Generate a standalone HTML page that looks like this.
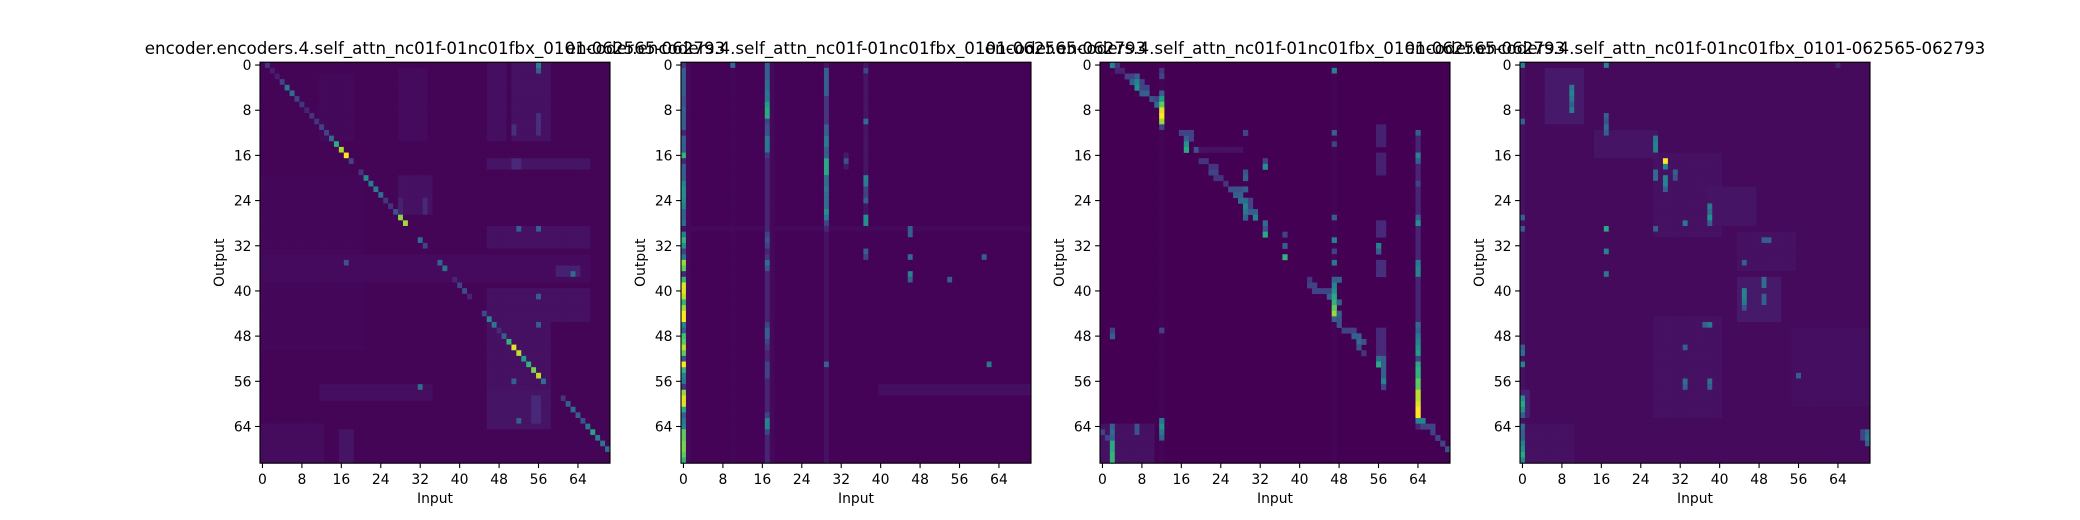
<!DOCTYPE html>
<html><head><meta charset="utf-8"><style>
html,body{margin:0;padding:0;background:#fff;}
svg{display:block;font-family:"DejaVu Sans","Liberation Sans",sans-serif;}
</style></head><body>
<svg id="fig" width="2080" height="520" viewBox="0 0 2080 520" xmlns="http://www.w3.org/2000/svg"></svg>
<script>
// ---- chart data (matrix 71x71 per head) ----
const nCells = 71;
const tickValues = [0, 8, 16, 24, 32, 40, 48, 56, 64];
const panelTitles = [
  "encoder.encoders.4.self_attn_nc01f-01nc01fbx_0101-062565-062793",
  "encoder.encoders.4.self_attn_nc01f-01nc01fbx_0101-062565-062793",
  "encoder.encoders.4.self_attn_nc01f-01nc01fbx_0101-062565-062793",
  "encoder.encoders.4.self_attn_nc01f-01nc01fbx_0101-062565-062793"
];
const baseValues = [0.01, 0.005, 0.0, 0.025];
// rects: [rowStart,rowEnd,colStart,colEnd,value]
const rects1 = [[0,13,46,49,0.08],[0,13,51,58,0.1],[9,12,56,56,0.3],[11,12,51,51,0.3],[1,13,28,33,0.06],[2,13,12,18,0.05],
 [17,18,46,66,0.12],[17,18,51,52,0.25],[29,32,46,66,0.1],[34,38,0,66,0.06],[36,37,60,64,0.2],[40,45,46,66,0.1],
 [20,26,28,34,0.1],[24,26,33,33,0.25],[24,26,28,28,0.2],[46,57,46,58,0.1],[58,64,46,58,0.12],[59,63,55,56,0.25],
 [57,59,12,34,0.08],[64,70,0,12,0.07],[65,70,16,18,0.12],[20,50,0,20,0.04]];
const cells1 = [[0,1,0.15],[1,2,0.08],[2,3,0.08],[3,4,0.2],[4,5,0.4],[5,6,0.35],[6,7,0.2],[7,8,0.15],[8,9,0.1],[9,10,0.15],
 [10,11,0.15],[11,12,0.2],[12,13,0.2],[13,14,0.35],[14,15,0.62],[15,16,0.88],[16,17,1.0],[17,18,0.2],[19,20,0.15],[20,21,0.48],
 [21,22,0.42],[22,23,0.42],[23,24,0.36],[24,25,0.16],[25,26,0.15],[26,27,0.25],[27,28,0.82],[28,29,0.86],[31,32,0.36],[32,33,0.2],
 [35,36,0.32],[36,37,0.38],[38,39,0.1],[39,40,0.2],[40,41,0.24],[41,42,0.1],[44,45,0.22],[45,46,0.46],[46,47,0.4],[47,48,0.12],
 [48,49,0.3],[49,50,0.65],[50,51,0.95],[51,52,0.9],[52,53,0.55],[53,54,0.65],[54,55,0.8],[55,56,0.9],[56,57,0.36],[59,61,0.15],
 [60,62,0.3],[61,63,0.35],[62,64,0.3],[63,65,0.25],[64,66,0.4],[65,67,0.58],[66,68,0.42],[67,69,0.38],[68,70,0.36],
 [0,56,0.45],[1,56,0.3],[29,52,0.3],[29,56,0.3],[35,17,0.25],[37,63,0.35],[41,56,0.3],[46,56,0.3],[56,51,0.3],[63,52,0.3],[57,32,0.35]];
const rects2 = [[0,70,18,18,0.05],[0,70,10,10,0.03],[29,70,29,29,0.1],[16,18,33,33,0.15],[29,29,0,70,0.05],[57,58,40,70,0.08],[0,28,37,37,0.12],[0,70,1,1,0.05]];
const col0Values2 = [0.15,0.3,0.3,0.3,0.3,0.3,0.25,0.25,0.3,0.3,0.3,0.3,0.1,0.3,0.3,0.3,0.65,0.1,0.3,0.3,0.3,0.45,0.5,0.5,0.48,0.45,0.3,0.3,0.35,0.05,
 0.45,0.65,0.5,0.2,0.4,0.85,0.75,0.1,0.65,0.95,0.95,0.9,0.65,0.85,1.0,1.0,0.45,0.3,0.7,0.75,0.9,0.75,0.25,1.0,0.65,0.45,0.4,0.15,0.85,0.95,
 0.95,0.6,0.3,0.4,0.45,0.75,0.75,0.8,0.8,0.75,0.65];
const col17Values2 = [0.1,0.3,0.3,0.35,0.35,0.4,0.4,0.55,0.6,0.6,0.2,0.25,0.25,0.4,0.4,0.4,0.15,0.1,0.1,0.1,0.1,0.1,0.1,0.1,0.1,0.1,0.1,0.1,0.1,0.1,
 0.2,0.25,0.2,0.1,0.15,0.35,0.25,0.1,0.1,0.1,0.1,0.1,0.1,0.1,0.1,0.1,0.2,0.3,0.3,0.2,0.15,0.1,0.1,0.2,0.2,0.2,0.1,0.1,0.1,0.1,
 0.1,0.1,0.2,0.45,0.45,0.2,0.1,0.1,0.1,0.1,0.1];
const col29Values2 = [0.05,0.3,0.3,0.3,0.3,0.3,0.15,0.15,0.15,0.15,0.15,0.3,0.3,0.4,0.4,0.3,0.3,0.6,0.6,0.6,0.35,0.35,0.4,0.35,0.35,0.35,0.5,0.4,0.2,0.1];
const cells2 = [[0,10,0.35],[0,17,0.3],[1,37,0.2],[10,37,0.35],[20,37,0.45],[21,37,0.42],[22,37,0.2],[23,37,0.2],[24,37,0.3],[27,37,0.5],[28,37,0.5],
 [33,37,0.3],[34,37,0.2],[29,46,0.3],[30,46,0.3],[34,46,0.35],[37,46,0.45],[38,46,0.3],[38,54,0.3],[34,61,0.3],[53,62,0.4],[53,29,0.3],[17,33,0.25]];
const rects3 = [[64,70,0,10,0.1],[11,14,56,57,0.2],[16,19,56,57,0.2],[28,30,56,57,0.25],[35,37,56,57,0.3],[47,52,56,57,0.25],[15,15,20,28,0.1],
 [0,70,47,47,0.02],[0,70,12,12,0.02]];
const col64Values3 = [0,0,0,0,0,0,0,0,0,0,0,0,0.3,0.1,0.1,0.1,0.45,0.3,0.1,0.1,0.1,0.2,0.1,0.1,0.1,0.1,0.1,0.3,0.5,0.1,
 0.1,0.1,0.1,0.1,0.1,0.4,0.45,0.45,0.1,0.1,0.1,0.1,0.1,0.1,0.1,0.1,0.35,0.3,0.4,0.45,0.5,0.55,0.2,0.6,0.65,0.65,0.75,0.75,0.9,0.9,
 0.95,1.0,1.0,0.45,0.1,0,0,0,0,0,0];
const cells3 = [[0,2,0.45],[0,3,0.15],[1,3,0.1],[1,4,0.1],[1,12,0.15],[1,47,0.45],[2,5,0.2],[2,6,0.2],[2,7,0.3],[2,12,0.2],[3,6,0.3],[3,7,0.45],[3,8,0.2],
 [4,7,0.5],[4,8,0.2],[4,9,0.2],[5,8,0.3],[5,9,0.3],[5,12,0.3],[6,10,0.25],[6,11,0.2],[6,12,0.55],[7,11,0.35],[7,12,0.75],[8,12,0.95],[9,12,1.0],
 [10,12,0.85],[11,12,0.2],[12,16,0.2],[12,17,0.2],[12,18,0.2],[12,29,0.2],[12,47,0.3],[13,17,0.3],[13,18,0.2],[14,17,0.5],[14,47,0.2],[15,17,0.6],
 [15,19,0.25],[17,20,0.15],[17,21,0.15],[17,33,0.2],[18,33,0.5],[18,22,0.15],[18,23,0.15],[19,22,0.2],[19,23,0.2],[19,29,0.25],[20,23,0.15],
 [20,24,0.15],[20,29,0.3],[21,25,0.15],[22,26,0.25],[22,27,0.25],[22,28,0.25],[22,29,0.3],[23,27,0.3],[23,28,0.3],[24,28,0.35],[24,29,0.35],
 [24,30,0.2],[25,29,0.45],[25,30,0.2],[26,29,0.4],[26,30,0.3],[26,31,0.3],[27,29,0.3],[27,31,0.45],[27,47,0.3],[28,33,0.35],[29,33,0.25],
 [30,33,0.6],[30,37,0.2],[31,47,0.45],[32,37,0.3],[32,56,0.45],[33,56,0.3],[33,47,0.2],[34,37,0.65],[35,47,0.4],[38,42,0.15],[38,47,0.3],
 [38,48,0.3],[39,42,0.2],[39,43,0.2],[39,47,0.45],[40,43,0.2],[40,44,0.2],[40,45,0.2],[40,46,0.2],[40,47,0.5],[41,46,0.3],[41,47,0.6],
 [42,47,0.65],[42,48,0.3],[43,47,0.75],[44,47,0.85],[44,48,0.3],[45,47,0.3],[45,48,0.25],[46,48,0.25],[47,2,0.2],[47,12,0.2],[47,49,0.2],
 [47,50,0.2],[47,51,0.2],[48,2,0.3],[48,51,0.3],[48,52,0.3],[49,52,0.35],[49,53,0.25],[50,52,0.25],[51,53,0.15],[52,56,0.35],[52,57,0.3],
 [53,56,0.6],[53,57,0.3],[54,57,0.3],[55,57,0.3],[56,57,0.45],[57,57,0.2],[63,65,0.45],[64,65,0.2],[64,66,0.2],[64,67,0.2],[65,67,0.2],
 [66,68,0.2],[67,69,0.2],[68,70,0.25],[63,12,0.4],[64,12,0.5],[65,12,0.4],[66,12,0.3],[64,2,0.3],[65,2,0.35],[66,2,0.3],[67,2,0.6],
 [68,2,0.6],[69,2,0.65],[70,2,0.65],[65,0,0.2],[66,1,0.2],[64,7,0.25],[65,7,0.25]];
const rects4 = [[1,10,5,12,0.15],[12,16,15,27,0.12],[16,30,27,40,0.1],[22,28,38,47,0.12],[30,36,44,55,0.1],[38,45,44,52,0.15],
 [45,62,27,40,0.1],[47,60,55,70,0.08],[64,70,0,10,0.1],[58,62,0,1,0.2],[0,70,0,0,0.1]];
const cells4 = [[0,0,0.45],[0,17,0.45],[4,10,0.4],[5,10,0.45],[6,10,0.4],[7,10,0.3],[8,10,0.4],[9,17,0.3],[10,17,0.25],[11,17,0.35],
 [12,17,0.3],[13,27,0.4],[14,27,0.45],[15,27,0.45],[17,29,1.0],[18,29,0.45],[20,29,0.45],[21,29,0.45],[22,29,0.3],[19,27,0.35],[20,27,0.35],
 [19,31,0.3],[20,31,0.25],[25,38,0.4],[26,38,0.35],[27,38,0.5],[28,38,0.3],[28,33,0.4],[29,17,0.6],[33,17,0.45],[37,17,0.4],[29,0,0.3],
 [31,49,0.3],[31,50,0.3],[35,45,0.3],[38,49,0.35],[39,49,0.35],[40,45,0.45],[41,45,0.45],[42,45,0.4],[41,49,0.3],[42,49,0.3],[43,45,0.25],
 [46,38,0.4],[46,37,0.3],[50,33,0.3],[56,38,0.35],[56,33,0.35],[57,33,0.3],[57,38,0.3],[55,56,0.3],[53,0,0.45],[50,0,0.3],[51,0,0.35],
 [59,0,0.5],[60,0,0.6],[61,0,0.5],[62,0,0.3],[64,0,0.35],[65,0,0.3],[66,0,0.3],[67,0,0.45],[68,0,0.5],[69,0,0.6],[70,0,0.45],
 [65,70,0.35],[66,70,0.4],[67,70,0.3],[66,69,0.2],[65,69,0.2],[27,0,0.3],[10,0,0.3],[0,64,0.1],[29,27,0.3]];

// ---- layout ----
const panelLefts = [260, 681, 1100, 1520];
const panelTop = 62.2, panelW = 350, panelH = 401;
const cw = panelW / nCells, ch = panelH / nCells;
const rectDim = 0.45;

const viridisStops = [[68,1,84],[72,40,120],[62,74,137],[49,104,142],[38,130,142],[31,158,137],[53,183,121],[109,205,89],[180,222,44],[253,231,37]];
function viridis(v){
  v = Math.max(0, Math.min(1, v));
  const p = v * (viridisStops.length - 1), i = Math.floor(p), f = p - i;
  const a = viridisStops[i], b = viridisStops[Math.min(i+1, viridisStops.length-1)];
  return `rgb(${Math.round(a[0]+(b[0]-a[0])*f)},${Math.round(a[1]+(b[1]-a[1])*f)},${Math.round(a[2]+(b[2]-a[2])*f)})`;
}
function buildMatrix(base, rects, cells, cols){
  const m = [];
  for (let r = 0; r < nCells; r++){ m.push(new Array(nCells).fill(base)); }
  rects.forEach(([r0,r1,c0,c1,v]) => { for (let r=r0;r<=r1;r++) for (let c=c0;c<=c1;c++) m[r][c] = Math.max(m[r][c], v*rectDim); });
  cols.forEach(([c, vals]) => vals.forEach((v, r) => { if (r < nCells) m[r][c] = Math.max(m[r][c], v); }));
  cells.forEach(([r,c,v]) => { m[r][c] = v; });
  return m;
}
const matrices = [
  buildMatrix(baseValues[0], rects1, cells1, []),
  buildMatrix(baseValues[1], rects2, cells2, [[0, col0Values2], [17, col17Values2], [29, col29Values2]]),
  buildMatrix(baseValues[2], rects3, cells3, [[64, col64Values3]]),
  buildMatrix(baseValues[3], rects4, cells4, [])
];

const NS = "http://www.w3.org/2000/svg";
const svg = document.getElementById("fig");
function mk(tag, attrs, parent){
  const e = document.createElementNS(NS, tag);
  for (const k in attrs) e.setAttribute(k, attrs[k]);
  (parent || svg).appendChild(e);
  return e;
}
matrices.forEach((m, p) => {
  const left = panelLefts[p];
  const xScale = c => left + c * cw;
  const yScale = r => panelTop + r * ch;
  const g = mk("g", {});
  
  
  mk("rect", {x:left, y:panelTop, width:panelW, height:panelH, fill:viridis(0)}, g);
  for (let r = 0; r < nCells; r++) for (let c = 0; c < nCells; c++){
    if (m[r][c] <= 0) continue;
    const cell = mk("rect", {x:xScale(c).toFixed(2), y:yScale(r).toFixed(2), width:(cw+0.3).toFixed(2), height:(ch+0.3).toFixed(2), fill:viridis(m[r][c])}, g);
    
    
  }
  const frame = mk("rect", {x:left, y:panelTop, width:panelW, height:panelH, fill:"none", stroke:"#000", "stroke-width":1.1});
  
  
  tickValues.forEach(t => {
    const ty = yScale(t) + ch/2, tx = xScale(t) + cw/2;
    mk("line", {x1:left-4.9, x2:left, y1:ty, y2:ty, stroke:"#000", "stroke-width":1.1});
    const yl = mk("text", {x:left-8.5, y:ty+5, "text-anchor":"end", "font-size":"13.9px", fill:"#000"});
    yl.textContent = t;
    
    
    mk("line", {x1:tx, x2:tx, y1:panelTop+panelH, y2:panelTop+panelH+4.9, stroke:"#000", "stroke-width":1.1});
    const xl = mk("text", {x:tx, y:panelTop+panelH+21, "text-anchor":"middle", "font-size":"13.9px", fill:"#000"});
    xl.textContent = t;
    
    
  });
  const xt = mk("text", {x:left+panelW/2, y:503, "text-anchor":"middle", "font-size":"13.9px", fill:"#000"});
  xt.textContent = "Input";
  
  
  const yt = mk("text", {x:0, y:0, "text-anchor":"middle", "font-size":"13.9px", fill:"#000", transform:`translate(${left-36},${panelTop+panelH/2}) rotate(-90)`});
  yt.textContent = "Output";
  
  
  const tt = mk("text", {x:left+panelW/2, y:54, "text-anchor":"middle", "font-size":"16.7px", fill:"#000"});
  tt.textContent = panelTitles[p];
  
  
});
</script>
</body></html>
